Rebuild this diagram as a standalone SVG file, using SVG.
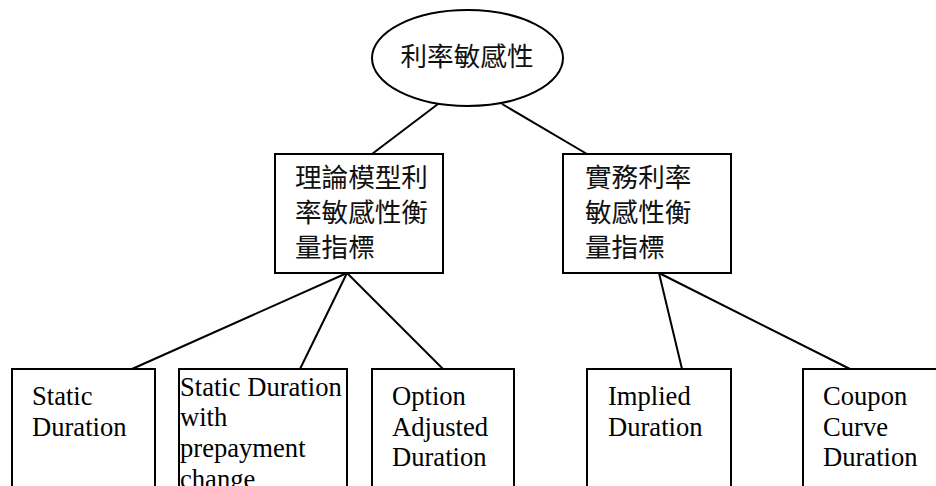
<svg xmlns="http://www.w3.org/2000/svg" width="936" height="486" viewBox="0 0 936 486">
<style>
.shape{fill:#fff;stroke:#000;stroke-width:2}
.cjk{font-family:"Noto Sans CJK TC","Noto Sans CJK SC",sans-serif;font-size:26.6px;fill:#111}
.en{font-family:"Liberation Serif","Times New Roman",serif;font-size:26.6px;fill:#000}
.conn line{stroke:#000;stroke-width:2}
</style>
<rect width="936" height="486" fill="#fff"/>
<g id="connectors" class="conn">
<line x1="438" y1="104" x2="372" y2="154"/>
<line x1="502" y1="104" x2="587" y2="154"/>
<line x1="347" y1="273" x2="132" y2="369"/>
<line x1="347" y1="273" x2="300" y2="369"/>
<line x1="347" y1="273" x2="443" y2="369"/>
<line x1="659" y1="273" x2="682" y2="369"/>
<line x1="659" y1="273" x2="850" y2="369"/>
</g>
<g id="root">
<ellipse class="shape" cx="467.5" cy="58" rx="95.5" ry="48"/>
<text class="cjk" x="467" y="66" text-anchor="middle">利率敏感性</text>
</g>
<g id="theory">
<rect class="shape" x="275" y="154" width="168" height="119"/>
<text class="cjk" x="295"><tspan x="295" y="187">理論模型利</tspan><tspan x="295" y="222">率敏感性衡</tspan><tspan x="295" y="257">量指標</tspan></text>
</g>
<g id="practice">
<rect class="shape" x="563" y="154" width="168" height="119"/>
<text class="cjk" x="585"><tspan x="585" y="187">實務利率</tspan><tspan x="585" y="222">敏感性衡</tspan><tspan x="585" y="257">量指標</tspan></text>
</g>
<g id="static">
<rect class="shape" x="12" y="369" width="143" height="200"/>
<text class="en"><tspan x="32" y="405">Static</tspan><tspan x="32" y="436">Duration</tspan></text>
</g>
<g id="static-prepay">
<rect class="shape" x="179" y="369" width="168" height="200"/>
<text class="en"><tspan x="180" y="396">Static Duration</tspan><tspan x="180" y="426">with</tspan><tspan x="180" y="457">prepayment</tspan><tspan x="180" y="488">change</tspan></text>
</g>
<g id="oad">
<rect class="shape" x="372" y="369" width="142" height="200"/>
<text class="en"><tspan x="392" y="405">Option</tspan><tspan x="392" y="436">Adjusted</tspan><tspan x="392" y="466">Duration</tspan></text>
</g>
<g id="implied">
<rect class="shape" x="587" y="369" width="144" height="200"/>
<text class="en"><tspan x="608" y="405">Implied</tspan><tspan x="608" y="436">Duration</tspan></text>
</g>
<g id="coupon">
<rect class="shape" x="803" y="369" width="160" height="200"/>
<text class="en"><tspan x="823" y="405">Coupon</tspan><tspan x="823" y="436">Curve</tspan><tspan x="823" y="466">Duration</tspan></text>
</g>
</svg>
